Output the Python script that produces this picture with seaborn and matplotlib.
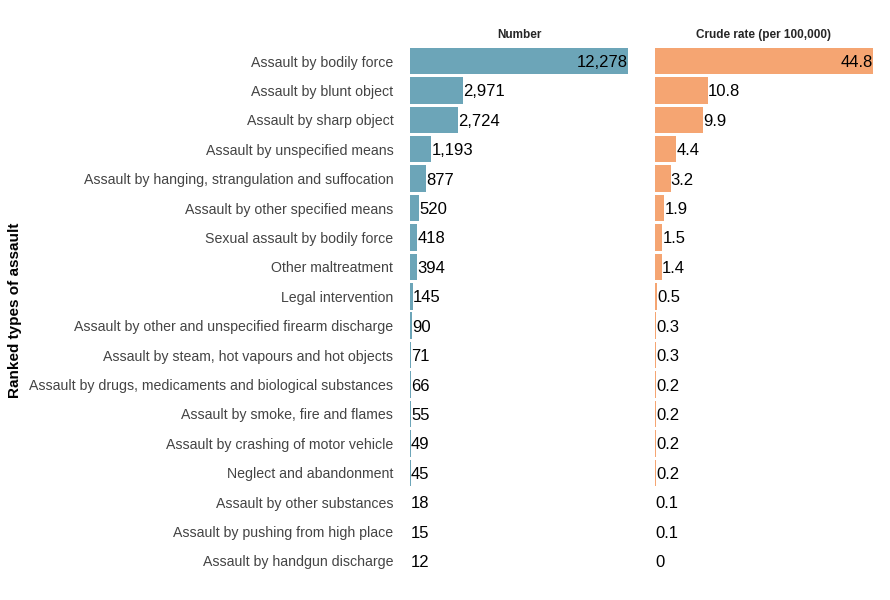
import matplotlib
matplotlib.use("Agg")
import matplotlib.pyplot as plt
import seaborn as sns
import pandas as pd

categories = [
    "Assault by bodily force",
    "Assault by blunt object",
    "Assault by sharp object",
    "Assault by unspecified means",
    "Assault by hanging, strangulation and suffocation",
    "Assault by other specified means",
    "Sexual assault by bodily force",
    "Other maltreatment",
    "Legal intervention",
    "Assault by other and unspecified firearm discharge",
    "Assault by steam, hot vapours and hot objects",
    "Assault by drugs, medicaments and biological substances",
    "Assault by smoke, fire and flames",
    "Assault by crashing of motor vehicle",
    "Neglect and abandonment",
    "Assault by other substances",
    "Assault by pushing from high place",
    "Assault by handgun discharge",
]
numbers = [12278, 2971, 2724, 1193, 877, 520, 418, 394, 145, 90, 71, 66, 55, 49, 45, 18, 15, 12]
rates = [44.8, 10.8, 9.9, 4.4, 3.2, 1.9, 1.5, 1.4, 0.5, 0.3, 0.3, 0.2, 0.2, 0.2, 0.2, 0.1, 0.1, 0.0]
number_labels = ["12,278", "2,971", "2,724", "1,193", "877", "520", "418", "394", "145",
                 "90", "71", "66", "55", "49", "45", "18", "15", "12"]
rate_labels = ["44.8", "10.8", "9.9", "4.4", "3.2", "1.9", "1.5", "1.4", "0.5",
               "0.3", "0.3", "0.2", "0.2", "0.2", "0.2", "0.1", "0.1", "0"]
panel_titles = ["Number", "Crude rate (per 100,000)"]
y_title = "Ranked types of assault"

df = pd.DataFrame({"type": categories, "number": numbers, "rate": rates})

sns.set_theme(style="white")
plt.rcParams["font.family"] = ["Liberation Sans", "DejaVu Sans"]

fig = plt.figure(figsize=(8.9, 6), dpi=100)
bottom = 0.0405
height = 0.9228 - 0.0405
ax1 = fig.add_axes([410 / 890, bottom, 218 / 890, height])
ax2 = fig.add_axes([655 / 890, bottom, 218 / 890, height])

colors = ["#6ca5b8", "#f5a572"]
for ax, col, labels, color, title in [
    (ax1, "number", number_labels, colors[0], panel_titles[0]),
    (ax2, "rate", rate_labels, colors[1], panel_titles[1]),
]:
    sns.barplot(data=df, x=col, y="type", order=categories, color=color,
                saturation=1, width=0.9, ax=ax, edgecolor="none")
    vmax = df[col].max()
    ax.set_xlim(0, vmax)
    ax.set_ylim(len(categories) - 0.5, -0.5)
    for i, (v, lab) in enumerate(zip(df[col], labels)):
        if v >= vmax * 0.5:
            ax.text(v, i, lab, ha="right", va="center_baseline", fontsize=12, color="black")
        else:
            ax.text(v + vmax * 0.001, i, lab, ha="left", va="center_baseline", fontsize=12, color="black")
    ax.set_xlabel("")
    ax.set_ylabel("")
    ax.set_xticks([])
    for s in ax.spines.values():
        s.set_visible(False)
    ax.set_title(title, fontsize=8.5, fontweight="bold", pad=6)
    ax.tick_params(axis="y", length=0, pad=16)

ax1.tick_params(axis="y", labelsize=10.2, labelcolor="#444444", pad=12)
ax2.set_yticklabels([])
ax2.set_yticks([])

fig.text(15 / 890, 1 - 310 / 600, y_title, rotation=90, ha="center", va="center",
         fontsize=11, fontweight="bold", color="black")

fig.savefig("out.png", dpi=100)
